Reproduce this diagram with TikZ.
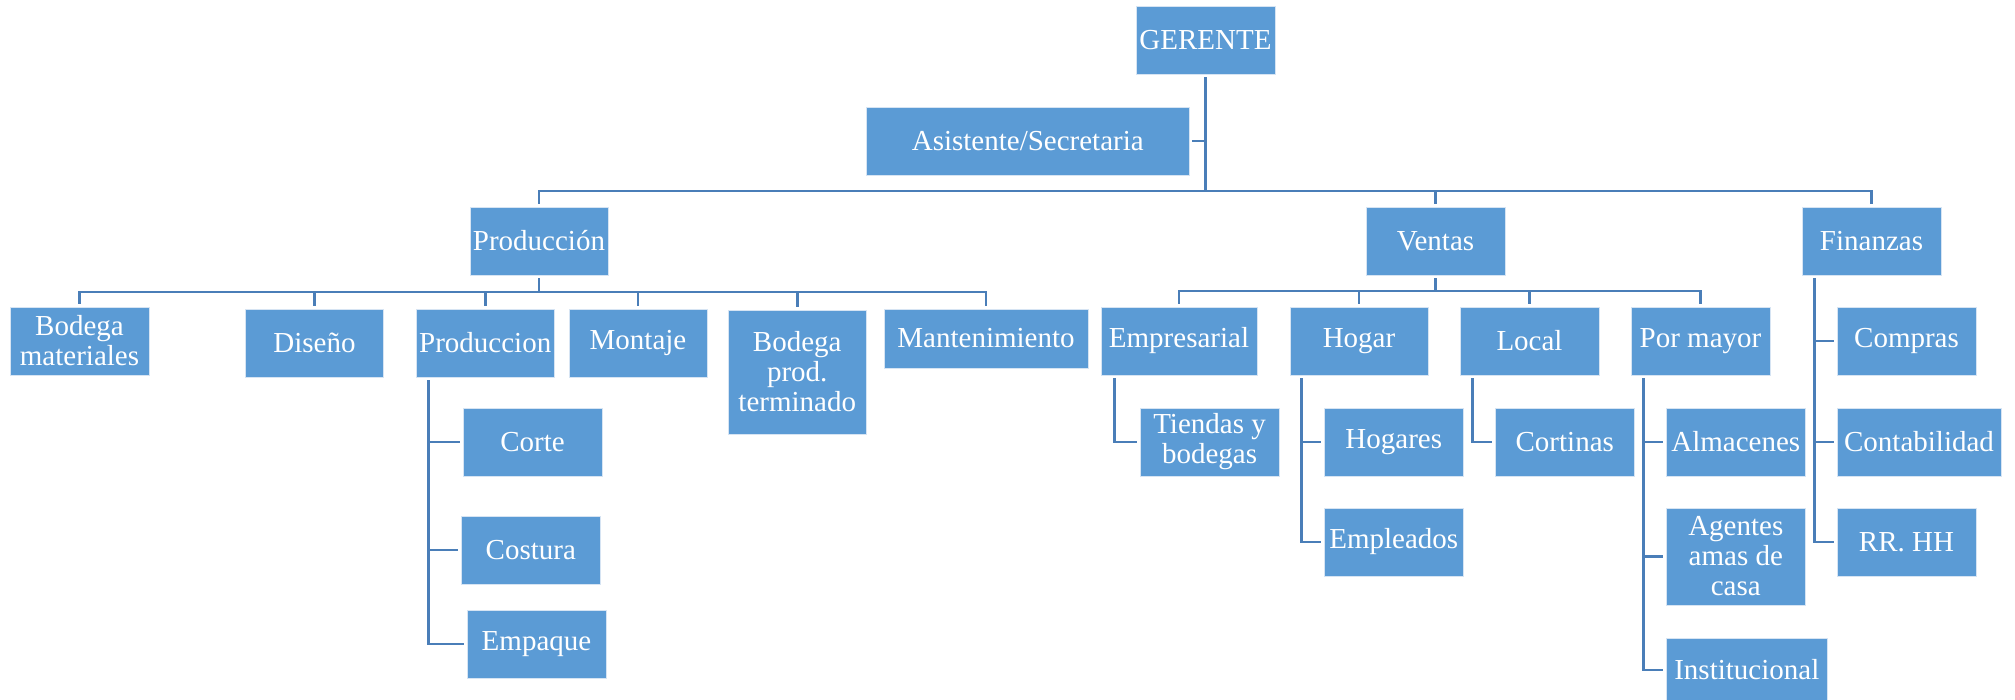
\documentclass[tikz,border=0pt]{standalone}
\usepackage{fontspec}
\setmainfont{Liberation Serif}
\definecolor{boxblue}{HTML}{5B9BD5}
\definecolor{lineblue}{HTML}{4A7EB8}
\definecolor{edge}{HTML}{D6E4F3}
\tikzset{
  box/.style={rectangle, fill=boxblue, draw=edge, line width=0.8pt, inner sep=0pt,
    text=white, align=center, font=\fontsize{29}{30}\selectfont},
  conn/.style={draw=lineblue, line width=2.8pt, shorten <=3pt, shorten >=3pt},
}
\newcommand{\bx}[7]{\node[box, minimum width=#4pt, minimum height=#5pt] (#1) at (#2,#3) {#6};}
\begin{document}
\begin{tikzpicture}[x=1pt,y=-1pt]
\useasboundingbox (0,0) rectangle (2015,699);
\clip (0,0) rectangle (2015,699);
% level 0/1
\bx{ger}{1205.5}{40}{139}{68}{GERENTE}{}
\bx{asis}{1027.75}{141}{322.5}{68}{Asistente/Secretaria}{}
\bx{prod}{539}{241}{138}{68}{Producción}{}
\bx{ventas}{1435.5}{241}{139}{68}{Ventas}{}
\bx{fin}{1871.5}{241}{139}{68}{Finanzas}{}
% production children
\bx{bm}{79.5}{341}{139}{68}{Bodega\\materiales}{}
\bx{dis}{314.5}{343}{138}{68}{Diseño}{}
\bx{pr}{485.25}{343}{138.5}{68}{Produccion}{}
\bx{mon}{638}{343}{138}{68}{Montaje}{}
\bx{bpt}{797.25}{372}{138.5}{124}{Bodega\\prod.\\terminado}{}
\bx{man}{986}{338.5}{204}{59}{Mantenimiento}{}
\bx{corte}{532.5}{442}{139}{68}{Corte}{}
\bx{cost}{530.8}{550}{138.4}{68}{Costura}{}
\bx{empq}{536.5}{644}{139}{68}{Empaque}{}
% ventas children
\bx{emp}{1179}{341}{156}{68}{Empresarial}{}
\bx{hog}{1359}{341}{138}{68}{Hogar}{}
\bx{loc}{1529.5}{341}{139}{68}{Local}{}
\bx{pm}{1700.5}{341}{139}{68}{Por mayor}{}
\bx{tyb}{1209.5}{442}{139}{68}{Tiendas y\\bodegas}{}
\bx{hgs}{1393.75}{442}{138.5}{68}{Hogares}{}
\bx{empl}{1393.75}{542}{138.5}{68}{Empleados}{}
\bx{cort}{1564.75}{442}{138.5}{68}{Cortinas}{}
\bx{alm}{1735.8}{442}{138.4}{68}{Almacenes}{}
\bx{age}{1735.8}{556.5}{138.4}{97}{Agentes\\amas de\\casa}{}
\bx{inst}{1746.8}{670}{160.4}{64}{Institucional}{}
% finanzas children
\bx{comp}{1906.5}{341}{139}{68}{Compras}{}
\bx{cont}{1919}{442}{164}{68}{Contabilidad}{}
\bx{rrhh}{1906.5}{542}{139}{68}{RR. HH}{}
% buses
\coordinate (busG) at (0,191);
\coordinate (busP) at (0,292);
\coordinate (busV) at (0,291);
% connectors
\foreach \c in {prod,ventas,fin}
  \draw[conn] (ger.south) -- (ger.south |- busG) -| (\c.north);
\draw[conn, shorten >=0pt] (asis.east) -- (asis.east -| ger.south);
\foreach \c in {bm,dis,pr,mon,bpt,man}
  \draw[conn] (prod.south) -- (prod.south |- busP) -| (\c.north);
\foreach \c in {emp,hog,loc,pm}
  \draw[conn] (ventas.south) -- (ventas.south |- busV) -| (\c.north);
\foreach \c in {corte,cost,empq}
  \draw[conn] ([xshift=13pt]pr.south west) |- (\c.west);
\draw[conn] ([xshift=14pt]emp.south west) |- (tyb.west);
\foreach \c in {hgs,empl}
  \draw[conn] ([xshift=12pt]hog.south west) |- (\c.west);
\draw[conn] ([xshift=13pt]loc.south west) |- (cort.west);
\foreach \c in {alm,age,inst}
  \draw[conn] ([xshift=13pt]pm.south west) |- (\c.west);
\foreach \c in {comp,cont,rrhh}
  \draw[conn] ([xshift=13pt]fin.south west) |- (\c.west);
\end{tikzpicture}
\end{document}
